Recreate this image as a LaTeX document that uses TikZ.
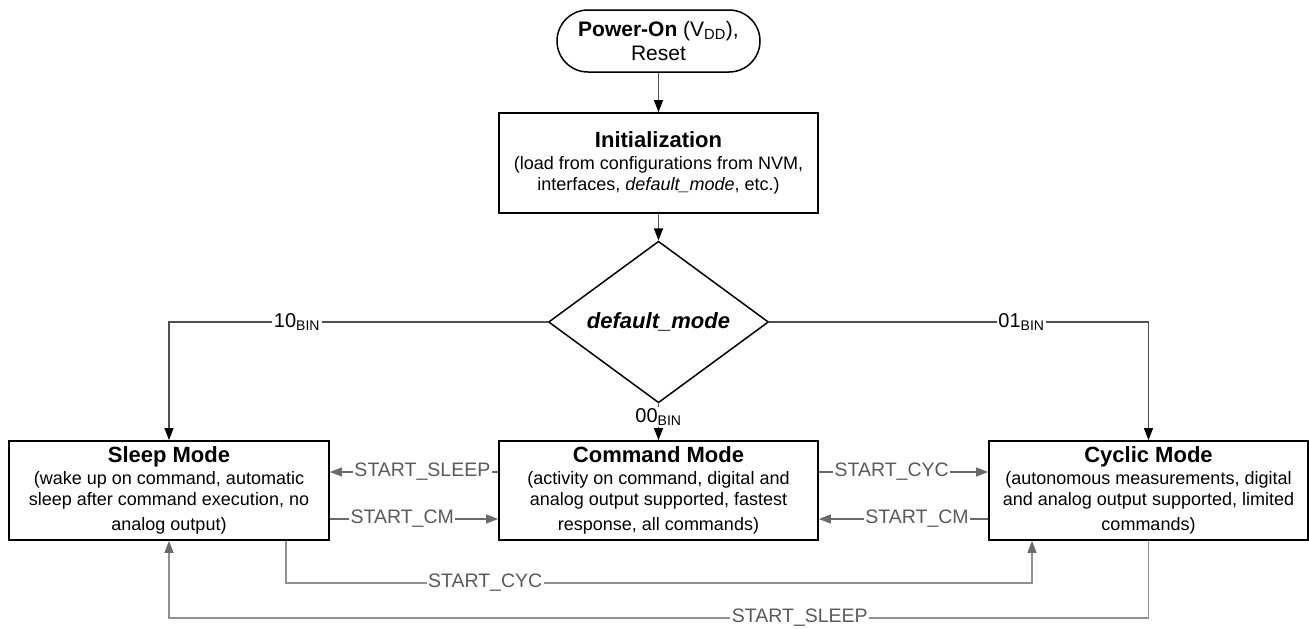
\documentclass[tikz,border=0pt]{standalone}
\usepackage{fontspec}
\setmainfont{Liberation Sans}
\usetikzlibrary{arrows.meta,shapes.geometric,shapes.misc}
\definecolor{lblgray}{HTML}{5A5A5A}
\definecolor{lngray}{HTML}{6A6A6A}
\definecolor{lightln}{HTML}{909090}
\definecolor{flowgray}{HTML}{505050}
\begin{document}
\begin{tikzpicture}[x=1pt,y=-1pt,
  modebox/.style={draw=black, line width=1.8pt, minimum width=319pt, minimum height=99pt,
    align=center, inner sep=2pt, font=\fontsize{18}{21.5}\selectfont},
  flowline/.style={draw=flowgray, line width=1.2pt, -{Triangle[length=12pt,width=9pt,color=black]}},
  transline/.style={draw=lngray, line width=1.2pt, -{Triangle[length=12pt,width=9pt,color=lngray]}},
  bottomline/.style={draw=lightln, line width=1.2pt, -{Triangle[length=12pt,width=9pt,color=lngray]}},
  flowlbl/.style={fill=white, inner sep=1.5pt, text=black, font=\fontsize{20}{22}\selectfont},
  tlbl/.style={fill=white, inner sep=1.5pt, text=lblgray, font=\fontsize{19.5}{22}\selectfont},
]
\useasboundingbox (0,0) rectangle (1309,629);

\node[draw=black, rounded rectangle, line width=1.5pt, minimum width=207pt, minimum height=62pt,
  align=center, inner sep=2pt, font=\fontsize{21}{24}\selectfont] (pwr) at (658.5,41)
  {\textbf{Power-On} (V\textsubscript{DD}),\\Reset};

\node[modebox, minimum height=100pt] (init) at (658.5,163)
  {{\fontsize{22}{25}\selectfont\bfseries Initialization}\\
   (load from configurations from NVM,\\
   interfaces, \textit{default\_mode}, etc.)};

\node[draw=black, diamond, line width=1.5pt, minimum width=220pt, minimum height=124pt,
  inner sep=0pt, font=\fontsize{22}{25}\selectfont\bfseries\itshape] (dia) at (658.5,322)
  {default\_mode};

\node[modebox, minimum width=320pt] (sleep) at (169,490.5)
  {{\fontsize{22}{25}\selectfont\bfseries Sleep Mode}\\
   (wake up on command, automatic\\
   sleep after command execution, no\\[3pt]
   analog output)};

\node[modebox] (cmd) at (658.5,490.5)
  {{\fontsize{22}{25}\selectfont\bfseries Command Mode}\\
   (activity on command, digital and\\
   analog output supported, fastest\\[3pt]
   response, all commands)};

\node[modebox] (cyc) at (1148.5,490.5)
  {{\fontsize{22}{25}\selectfont\bfseries Cyclic Mode}\\
   (autonomous measurements, digital\\
   and analog output supported, limited\\[3pt]
   commands)};

% main flow
\draw[flowline] (pwr.south) -- (init.north);
\draw[flowline] (init.south) -- (dia.north);
\draw[flowline] (dia.west) -- node[flowlbl,pos=0.662]{10\textsubscript{BIN}} (dia.west -| sleep.north) -- (sleep.north);
\draw[flowline] (dia.east) -- node[flowlbl,pos=0.665]{01\textsubscript{BIN}} (dia.east -| cyc.north) -- (cyc.north);
\draw[flowline] (dia.south) -- node[flowlbl,pos=0.37]{00\textsubscript{BIN}} (cmd.north);

% side transitions
\coordinate (yA) at (0,472);
\coordinate (yB) at (0,519);
\draw[transline] (cmd.west |- yA) -- node[tlbl,pos=0.45]{START\_SLEEP} (sleep.east |- yA);
\draw[transline] (sleep.east |- yB) -- node[tlbl,pos=0.43]{START\_CM} (cmd.west |- yB);
\draw[transline] (cmd.east |- yA) -- node[tlbl,pos=0.43]{START\_CYC} (cyc.west |- yA);
\draw[transline] (cyc.west |- yB) -- node[tlbl,pos=0.42]{START\_CM} (cmd.east |- yB);

% bottom transitions
\coordinate (b1) at (286,583);
\coordinate (b2) at (1032,583);
\draw[bottomline] (sleep.south -| b1) -- (b1) -- node[tlbl,pos=0.267]{START\_CYC} (b2) -- (cyc.south -| b2);
\coordinate (c1) at (0,618);
\draw[bottomline] (cyc.south) -- (cyc.south |- c1) -- node[tlbl,pos=0.356]{START\_SLEEP} (sleep.south |- c1) -- (sleep.south);
\end{tikzpicture}
\end{document}
